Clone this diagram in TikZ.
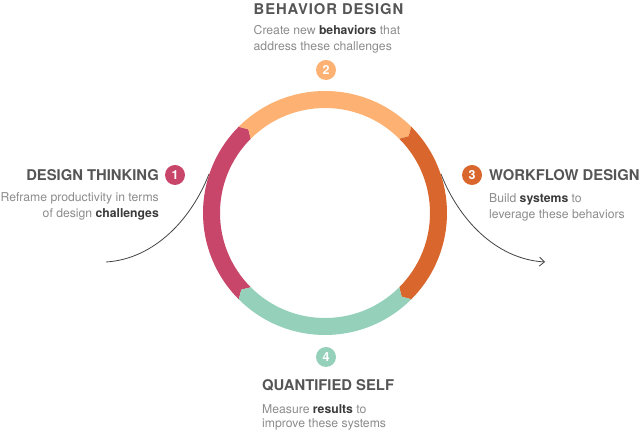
\documentclass[tikz,border=0pt]{standalone}
\usepackage{fontspec}
\setmainfont{TeX Gyre Heros}
\usetikzlibrary{arrows.meta}
\definecolor{cred}{HTML}{C8466A}
\definecolor{corange}{HTML}{FDB173}
\definecolor{cdark}{HTML}{D9662C}
\definecolor{cteal}{HTML}{95D1BA}
\definecolor{chead}{HTML}{555555}
\definecolor{cdesc}{HTML}{8C8C8C}
\definecolor{cstrong}{HTML}{3A3A3A}
\definecolor{cline}{HTML}{444444}
\tikzset{
  headtxt/.style={font=\fontsize{14.8}{16}\selectfont\bfseries, text=chead, inner sep=0pt},
  desctxt/.style={font=\fontsize{12.2}{16}\selectfont, text=cdesc, inner sep=0pt},
  badge/.style={circle, fill=#1, minimum size=20pt, inner sep=0pt, text=white,
    font=\fontsize{12.5}{12.5}\selectfont\bfseries},
  flowline/.style={draw=cline, line width=0.8pt},
}
\newcommand{\myemph}[1]{\textcolor{cstrong}{\bfseries #1}}
\newcommand{\ringseg}[3]{%
  \fill[#3] (#1:122pt) arc[start angle=#1, end angle=#2, radius=122pt]
    -- ({#2-2.5}:113.5pt) -- (#2:105pt)
    arc[start angle=#2, end angle=#1, radius=105pt]
    -- ({#1-2.5}:113.5pt) -- cycle;}
\begin{document}
\begin{tikzpicture}[x=1pt,y=1pt]
\useasboundingbox (0,0) rectangle (640,433);
\fill[white] (0,0) rectangle (640,433);
% connectors
\coordinate (lstart) at (106,171);
\coordinate (lend) at (209,259);
\coordinate (rstart) at (441,259);
\coordinate (rend) at (545,171);
\draw[flowline] (lstart) .. controls (155,174) and (192,215) .. (lend);
\draw[flowline, -{Straight Barb[length=5pt,width=9pt]}] (rstart) .. controls (458,215) and (495,174) .. (rend);
% ring
\begin{scope}[shift={(325,220)}]
\ringseg{225}{135}{cred}
\ringseg{135}{45}{corange}
\ringseg{45}{-45}{cdark}
\ringseg{-45}{-135}{cteal}
\end{scope}
% badges
\node[badge=cred] (b1) at (175,258) {1};
\node[badge=corange] (b2) at (326,363) {2};
\node[badge=cdark] (b3) at (472,258) {3};
\node[badge=cteal] (b4) at (326,76) {4};
% texts
\node[headtxt, anchor=base west] (h2) at (253.5,418.5) {\addfontfeature{LetterSpace=6}BEHAVIOR DESIGN};
\node[desctxt, anchor=base west] (d2a) at (253.5,398.5) {Create new \myemph{behaviors} that};
\node[desctxt, anchor=base west] (d2b) at (253.5,382.5) {address these challenges};
\node[headtxt, anchor=base east] (h1) at (159,252.3) {DESIGN THINKING};
\node[desctxt, anchor=base east] (d1a) at (159,231.3) {Reframe productivity in terms};
\node[desctxt, anchor=base east] (d1b) at (159,215.3) {of design \myemph{challenges}};
\node[headtxt, anchor=base west] (h3) at (489,252.3) {WORKFLOW DESIGN};
\node[desctxt, anchor=base west] (d3a) at (489,230.5) {Build \myemph{systems} to};
\node[desctxt, anchor=base west] (d3b) at (489,214.5) {leverage these behaviors};
\node[headtxt, anchor=base west] (h4) at (262,42) {QUANTIFIED SELF};
\node[desctxt, anchor=base west] (d4a) at (262,19.7) {Measure \myemph{results} to};
\node[desctxt, anchor=base west] (d4b) at (262,5.3) {improve these systems};
\end{tikzpicture}
\end{document}
